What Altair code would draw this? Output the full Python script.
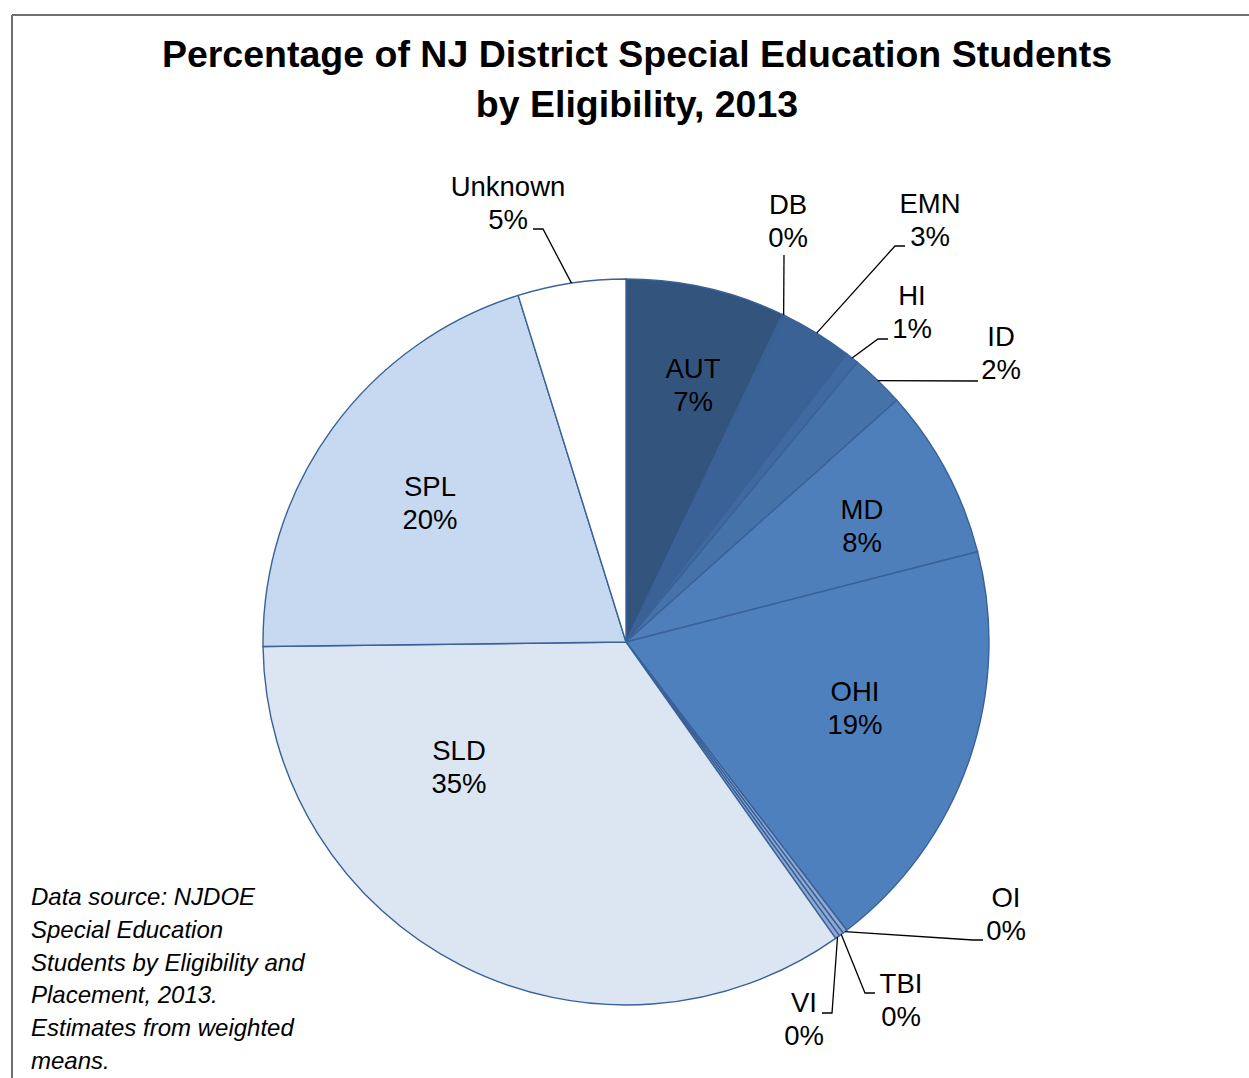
import math
import altair as alt
import pandas as pd

# ---------------- data ----------------
categories = ["AUT", "DB", "EMN", "HI", "ID", "MD", "OHI", "OI", "TBI", "VI", "SLD", "SPL", "Unknown"]
values = [7.1, 0.1, 3.2, 0.6, 2.4, 7.6, 18.6, 0.2, 0.2, 0.2, 34.6, 20.4, 4.8]
colors = ["#33557d", "#385e90", "#3b6296", "#4069a2", "#4672aa", "#4e7fbb", "#4e80bd",
          "#8ea9d2", "#8ea9d2", "#8ea9d2", "#dce6f2", "#c6d9f1", "#ffffff"]

title_lines = ["Percentage of NJ District Special Education Students", "by Eligibility, 2013"]
note_lines = ["Data source: NJDOE", "Special Education", "Students by Eligibility and",
              "Placement, 2013.", "Estimates from weighted", "means."]

# ---------------- layout (pixels) ----------------
W, H = 1249, 1078
CX, CY, R = 626, 642, 363
# label first-line centres
label_pos = {
    "AUT": (693, 370), "MD": (862, 511), "OHI": (855, 693), "SLD": (459, 752), "SPL": (430, 488),
    "Unknown": (508, 188), "DB": (788, 206), "EMN": (930, 205), "HI": (912, 297),
    "ID": (1001, 338), "OI": (1006, 899), "TBI": (901, 985), "VI": (804, 1004),
}
# leader line points after the slice-edge point
leader_pts = {
    "Unknown": [(543, 229), (533, 229)],
    "DB": [(784, 255)],
    "EMN": [(895, 246), (905, 246)],
    "HI": [(878, 339), (888, 339)],
    "ID": [(978, 381)],
    "OI": [(973, 940), (983, 940)],
    "TBI": [(865, 993), (875, 993)],
    "VI": [(832, 1013), (822, 1013)],
}
FONT = "Liberation Sans"

# ---------------- tables ----------------
df = pd.DataFrame({"cat": categories, "value": values, "idx": list(range(len(categories)))})
total = sum(values)
cum = 0.0
mids = []
for v in values:
    mids.append((cum + v / 2) / total * 2 * math.pi)
    cum += v
df["mid"] = mids
df["label"] = [f"{c}\n{round(v)}%" for c, v in zip(categories, values)]
df["lx"] = [label_pos[c][0] for c in categories]
df["ly"] = [label_pos[c][1] for c in categories]

rows = []
for c, m in zip(categories, mids):
    if c not in leader_pts:
        continue
    pts = [(CX + R * math.sin(m), CY - R * math.cos(m))] + leader_pts[c]
    for i, (x, y) in enumerate(pts):
        rows.append({"cat": c, "o": i, "x": x, "y": y})
lead_df = pd.DataFrame(rows)

title_df = pd.DataFrame({"t": title_lines, "y": [67, 117]})
note_df = pd.DataFrame({"t": note_lines, "y": [905 + 32.8 * i for i in range(len(note_lines))]})

# ---------------- marks ----------------
pie = alt.Chart(df).mark_arc(outerRadius=R, stroke="#3a6298", strokeWidth=1.4).encode(
    theta=alt.Theta("value:Q", stack=True),
    order=alt.Order("idx:Q"),
    color=alt.Color("cat:N", scale=alt.Scale(domain=categories, range=colors), legend=None),
    x=alt.value(CX), y=alt.value(CY),
)

leaders = alt.Chart(lead_df).mark_line(color="black", strokeWidth=1.3).encode(
    x=alt.X("x:Q", scale=None, axis=None),
    y=alt.Y("y:Q", scale=None, axis=None),
    detail="cat:N",
    order="o:Q",
)

labels = alt.Chart(df).mark_text(font=FONT, fontSize=27.5, lineBreak="\n", lineHeight=33,
                                 align="center", baseline="middle", color="black").encode(
    x=alt.X("lx:Q", scale=None, axis=None),
    y=alt.Y("ly:Q", scale=None, axis=None),
    text="label:N",
)

title = alt.Chart(title_df).mark_text(font=FONT, fontSize=37.5, fontWeight="bold", align="center",
                                      baseline="alphabetic", color="black").encode(
    x=alt.value(637),
    y=alt.Y("y:Q", scale=None, axis=None),
    text="t:N",
)

note = alt.Chart(note_df).mark_text(font=FONT, fontSize=24, fontStyle="italic", align="left",
                                    baseline="alphabetic", color="black").encode(
    x=alt.value(31),
    y=alt.Y("y:Q", scale=None, axis=None),
    text="t:N",
)

frame_top = alt.Chart(pd.DataFrame({"a": [0]})).mark_rule(color="#6f6f6f", strokeWidth=2).encode(
    x=alt.value(12), x2=alt.value(W + 5), y=alt.value(15))
frame_left = alt.Chart(pd.DataFrame({"a": [0]})).mark_rule(color="#6f6f6f", strokeWidth=2).encode(
    x=alt.value(12), y=alt.value(15), y2=alt.value(H + 5))

chart = alt.layer(frame_top, frame_left, pie, leaders, labels, title, note).properties(
    width=W, height=H, padding=0, autosize="none", background="white"
).configure_view(stroke=None)

chart.save("out.html", embed_options={"renderer": "svg", "actions": False})
